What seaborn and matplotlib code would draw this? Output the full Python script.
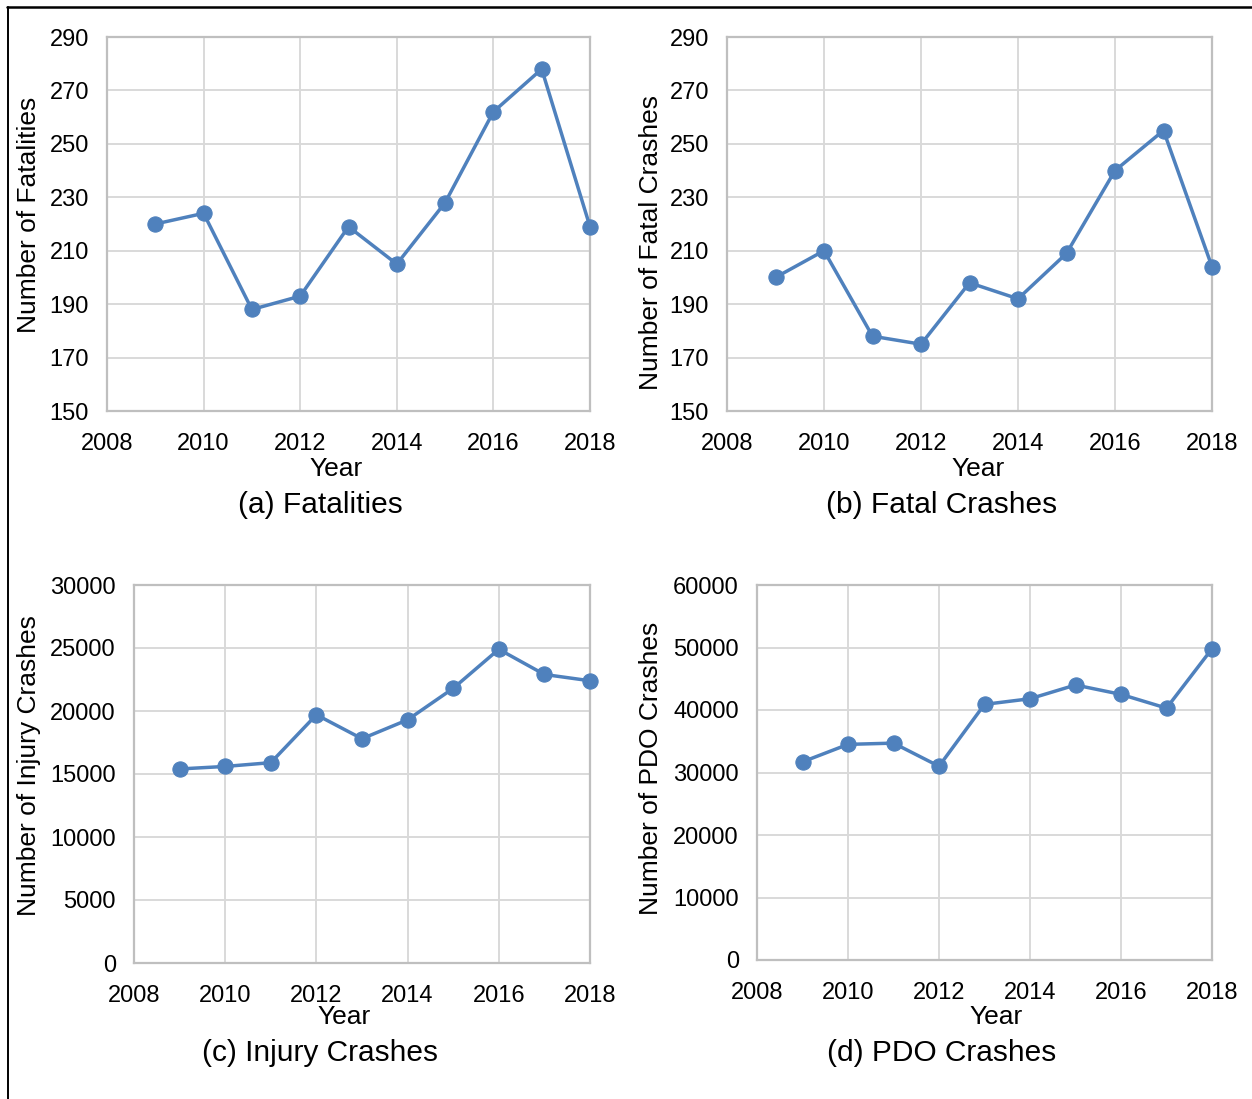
import matplotlib
matplotlib.use("Agg")
import matplotlib.pyplot as plt
import seaborn as sns
import pandas as pd
from matplotlib.lines import Line2D

years = [2009, 2010, 2011, 2012, 2013, 2014, 2015, 2016, 2017, 2018]
fatalities = [220, 224, 188, 193, 219, 205, 228, 262, 278, 219]
fatal_crashes = [200, 210, 178, 175, 198, 192, 209, 240, 255, 204]
injury_crashes = [15400, 15600, 15900, 19700, 17800, 19300, 21800, 24900, 22900, 22400]
pdo_crashes = [31700, 34500, 34700, 31000, 40900, 41800, 44000, 42500, 40300, 49800]

x_ticks = [2008, 2010, 2012, 2014, 2016, 2018]
ylabels = ["Number of Fatalities", "Number of Fatal Crashes",
           "Number of Injury Crashes", "Number of PDO Crashes"]
captions = ["(a) Fatalities", "(b) Fatal Crashes", "(c) Injury Crashes", "(d) PDO Crashes"]
y_ranges = [(150, 290, 20), (150, 290, 20), (0, 30000, 5000), (0, 60000, 10000)]
series = [fatalities, fatal_crashes, injury_crashes, pdo_crashes]

sns.set_theme(style="white")
plt.rcParams["font.family"] = ["Liberation Sans", "DejaVu Sans"]
plt.rcParams["text.color"] = "black"
plt.rcParams["axes.labelcolor"] = "black"

W, H = 1252, 1099
fig = plt.figure(figsize=(W / 100, H / 100), dpi=100)
fig.patch.set_facecolor("white")

# panel boxes in pixels: left, right, top, bottom
boxes = [(107, 590, 37, 411), (727, 1212, 37, 411),
         (134, 590, 585, 963), (757, 1212, 585, 960)]
# label centres in pixels
ylabel_pos = [(29, 215), (651, 243), (29, 766), (651, 768)]
xlabel_pos = [(336, 469), (978, 469), (344, 1017), (996, 1017)]
caption_pos = [(320, 505), (942, 505), (320, 1053), (942, 1053)]

line_color = "#4F81BD"

for i in range(4):
    l, r, t, b = boxes[i]
    ax = fig.add_axes([l / W, 1 - b / H, (r - l) / W, (b - t) / H])
    df = pd.DataFrame({"Year": years, "Value": series[i]})
    sns.lineplot(data=df, x="Year", y="Value", ax=ax, color=line_color,
                 linewidth=2.5, marker="o", markersize=11,
                 markeredgecolor=line_color, markerfacecolor=line_color,
                 clip_on=False, zorder=5)
    lo, hi, step = y_ranges[i]
    ax.set_ylim(lo, hi)
    ax.set_yticks(list(range(lo, hi + 1, step)))
    ax.set_xlim(2008, 2018)
    ax.set_xticks(x_ticks)
    ax.grid(True, color="#D9D9D9", linewidth=1.4)
    ax.set_axisbelow(True)
    for s in ax.spines.values():
        s.set_color("#BFBFBF")
        s.set_linewidth(1.6)
        s.set_visible(True)
    ax.tick_params(axis="both", length=0, labelsize=17, colors="black")
    ax.tick_params(axis="x", pad=15.5)
    ax.tick_params(axis="y", pad=13)
    ax.set_xlabel("Year", fontsize=19, va="center")
    ax.set_ylabel(ylabels[i], fontsize=19, va="center")
    ax.xaxis.set_label_coords(xlabel_pos[i][0] / W, 1 - xlabel_pos[i][1] / H,
                              transform=fig.transFigure)
    ax.yaxis.set_label_coords(ylabel_pos[i][0] / W, 1 - ylabel_pos[i][1] / H,
                              transform=fig.transFigure)
    fig.text(caption_pos[i][0] / W, 1 - caption_pos[i][1] / H, captions[i],
             fontsize=21.5, ha="center", va="center")

# outer frame lines along top and left
fig.add_artist(Line2D([7 / W, 1.0], [1 - 7 / H, 1 - 7 / H], color="black",
                      linewidth=1.8, transform=fig.transFigure))
fig.add_artist(Line2D([8 / W, 8 / W], [0.0, 1 - 7 / H], color="black",
                      linewidth=1.4, transform=fig.transFigure))

fig.savefig("out.png", dpi=100, facecolor="white")
